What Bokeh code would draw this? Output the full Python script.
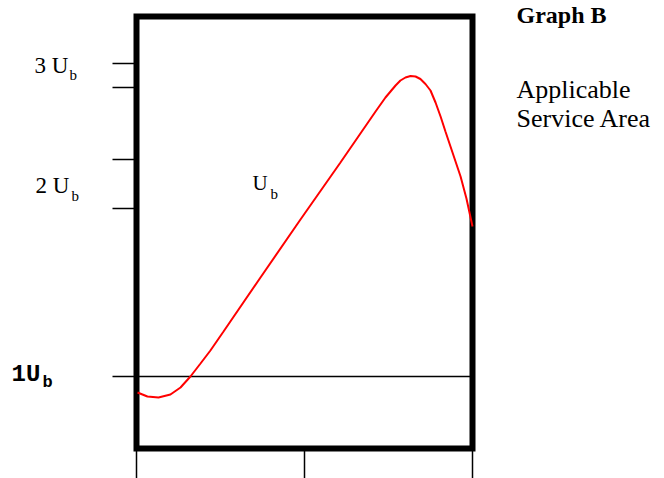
from bokeh.plotting import figure
from bokeh.models import Range1d, Label
from bokeh.embed import file_html
from bokeh.resources import INLINE

# ---- data ----
position = [0.006, 0.065, 0.131, 0.202, 0.262, 0.321, 0.381, 0.440, 0.518, 0.738,
            0.976, 1.214, 1.423, 1.482, 1.512, 1.542, 1.571, 1.601, 1.631, 1.661,
            1.690, 1.720, 1.750, 1.780, 1.810, 1.839, 1.869, 1.929, 1.964, 2.0]
level = [56, 52, 51, 54, 61, 72, 85, 98, 117, 171,
         229, 286, 337, 351, 357, 363, 368, 371, 372.5, 372,
         369.5, 364.5, 358, 346, 332, 317, 302, 272, 250, 222]
level_ticks = [72, 240, 289, 361, 385]
position_ticks = [0, 1, 2]
base_level = 72
level_top = 432

W, H = 664, 478
# plot area = whole canvas; the box (0..2, 0..432) sits at pixels 136..472 x 16..448
PX_PER_X = 168.0
x0_px, y0_px = 136, 448


def dx(px):
    return (px - x0_px) / PX_PER_X


def dy(py):
    return y0_px - py


p = figure(width=W, height=H, output_backend="svg", toolbar_location=None,
           x_range=Range1d(dx(0), dx(W)), y_range=Range1d(dy(H), dy(0)),
           x_axis_location=None, y_axis_location=None,
           min_border=0)
p.grid.visible = False
p.outline_line_color = None
p.background_fill_color = "white"
p.border_fill_color = "white"

xmin, xmax = min(position_ticks), max(position_ticks)

# 1 U_b reference line with its outer tick
p.segment(x0=[dx(112)], y0=[base_level], x1=[xmax], y1=[base_level],
          line_color="black", line_width=1.5)
# left ticks
other = [t for t in level_ticks if t != base_level]
p.segment(x0=[dx(112)] * len(other), y0=other, x1=[xmin] * len(other), y1=other,
          line_color="black", line_width=1.5)
# bottom ticks
p.segment(x0=position_ticks, y0=[0] * len(position_ticks),
          x1=position_ticks, y1=[dy(H)] * len(position_ticks),
          line_color="black", line_width=1.5)

# thick box
p.quad(left=[xmin], right=[xmax], bottom=[0], top=[level_top],
       fill_color=None, line_color="black", line_width=6, line_join="miter")

# curve (drawn over the box edge, as in the original)
p.line(position, level, line_color="red", line_width=2)

serif = "Liberation Serif"
mono = "Liberation Mono"


def lab(text, px, base_py, size, font=serif, style="normal"):
    # base_py: wanted baseline in pixels; correct for the renderer's baseline shift
    py = base_py - 0.38 * size
    p.add_layout(Label(x=dx(px), y=dy(py), text=text,
                       text_font=font, text_font_size=f"{size}px", text_font_style=style,
                       text_color="black", text_baseline="alphabetic",
                       text_align="left"))


lab("3 U", 34, 74, 23)
lab("b", 69, 80, 15)
lab("2 U", 35, 194, 23)
lab("b", 71, 201, 15)
lab("U", 252, 190, 21)
lab("b", 270, 199, 15)
lab("1U", 11, 383, 24, font=mono, style="bold")
lab("b", 42, 388, 17, font=mono, style="bold")
lab("Graph B", 516, 24, 24, style="bold")
lab("Applicable", 516, 99, 26)
lab("Service Area", 516, 128, 26)

open("out.html", "w").write(file_html(p, INLINE))
